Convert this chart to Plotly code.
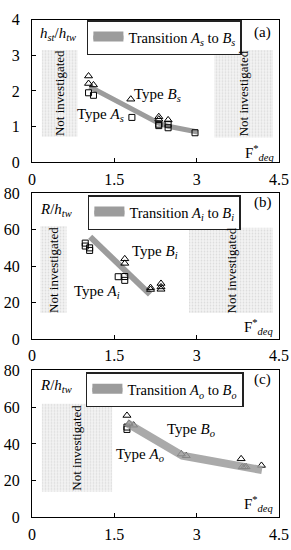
import plotly.graph_objects as go

# ---------------- data ----------------
# Panel (a)
a_tri_x = [1.03, 1.03, 1.12, 1.80, 2.31, 2.31, 2.48]
a_tri_y = [2.42, 2.21, 2.17, 1.77, 1.28, 1.21, 1.19]
a_sq_x = [1.03, 1.12, 1.82, 2.31, 2.31, 2.48, 2.48, 2.97]
a_sq_y = [1.95, 1.88, 1.26, 1.07, 1.03, 1.07, 0.97, 0.83]
a_tr_x = [1.05, 2.31, 2.48, 3.02]
a_tr_y = [2.12, 1.10, 1.01, 0.85]

# Panel (b)
b_tri_x = [1.69, 1.69, 2.16, 2.16, 2.35, 2.35, 2.35]
b_tri_y = [44.0, 41.5, 28.2, 27.2, 30.5, 28.6, 27.3]
b_sq_x = [0.97, 0.97, 1.05, 1.05, 1.57, 1.69, 1.69]
b_sq_y = [52.6, 51.0, 50.0, 48.6, 34.2, 34.3, 32.2]
b_tr_x = [1.06, 2.15]
b_tr_y = [56.0, 24.5]

# Panel (c)
c_tri_x = [1.73, 1.77, 1.85, 2.72, 2.81, 3.81, 3.83, 3.87, 3.90, 4.18]
c_tri_y = [55.5, 51.1, 50.2, 34.5, 33.6, 31.9, 27.5, 27.5, 27.5, 28.3]
c_sq_x = [1.73, 1.73]
c_sq_y = [49.2, 47.9]
c_tr_x = [1.72, 2.74, 4.19]
c_tr_y = [51.5, 33.6, 25.8]

# "Not investigated" regions [x0, x1, y0, y1]
a_regions = [[0.18, 0.83, 0.72, 3.15], [3.32, 4.39, 0.70, 3.15]]
b_regions = [[0.15, 0.63, 14.3, 62.0], [2.86, 4.39, 14.3, 61.0]]
c_regions = [[0.18, 1.46, 14.0, 61.9]]

x_ticks = [0, 1.5, 3, 4.5]
x_ticklabels = ["0", "1.5", "3", "4.5"]
a_yticks = [0, 1, 2, 3, 4]
bc_yticks = [0, 20, 40, 60, 80]

FONT = "Liberation Serif, Times New Roman, DejaVu Serif, serif"
fig = go.Figure()

panels = [
    dict(xa="x", ya="y", leg="legend", tri=(a_tri_x, a_tri_y), sq=(a_sq_x, a_sq_y),
         tr=(a_tr_x, a_tr_y), regions=a_regions, lw=5, over=False,
         name="Transition <i>A<sub>s</sub></i> to <i>B<sub>s</sub></i>"),
    dict(xa="x2", ya="y2", leg="legend2", tri=(b_tri_x, b_tri_y), sq=(b_sq_x, b_sq_y),
         tr=(b_tr_x, b_tr_y), regions=b_regions, lw=6, over=False,
         name="Transition <i>A<sub>i</sub></i> to <i>B<sub>i</sub></i>"),
    dict(xa="x3", ya="y3", leg="legend3", tri=(c_tri_x, c_tri_y), sq=(c_sq_x, c_sq_y),
         tr=(c_tr_x, c_tr_y), regions=c_regions, lw=8, over=True,
         name="Transition <i>A<sub>o</sub></i> to <i>B<sub>o</sub></i>"),
]

GRAY = "#9c9c9c"

for p in panels:
    for (x0, x1, y0, y1) in p["regions"]:
        fig.add_trace(go.Scatter(
            x=[x0, x1, x1, x0, x0], y=[y0, y0, y1, y1, y0], mode="lines",
            line=dict(width=0), fill="toself", fillcolor="#efefef",
            fillpattern=dict(shape=".", fgcolor="#c4c4c4", bgcolor="#f4f4f4",
                             size=3, solidity=0.3),
            xaxis=p["xa"], yaxis=p["ya"], showlegend=False, hoverinfo="skip"))

    # legend-only swatch (filled rectangle look)
    fig.add_trace(go.Scatter(
        x=[None], y=[None], mode="lines", fill="toself", fillcolor=GRAY,
        line=dict(color=GRAY, width=8), name=p["name"], legend=p["leg"],
        showlegend=True, xaxis=p["xa"], yaxis=p["ya"], hoverinfo="skip"))

    line_trace = go.Scatter(
        x=p["tr"][0], y=p["tr"][1], mode="lines",
        line=dict(color=GRAY, width=p["lw"]),
        opacity=0.85 if p["over"] else 1.0,
        showlegend=False, xaxis=p["xa"], yaxis=p["ya"])
    marker_traces = [
        go.Scatter(x=p["tri"][0], y=p["tri"][1], mode="markers",
                   marker=dict(symbol="triangle-up-open", size=7, color="black",
                               line=dict(width=1)),
                   xaxis=p["xa"], yaxis=p["ya"], showlegend=False),
        go.Scatter(x=p["sq"][0], y=p["sq"][1], mode="markers",
                   marker=dict(symbol="square-open", size=6, color="black",
                               line=dict(width=1)),
                   xaxis=p["xa"], yaxis=p["ya"], showlegend=False),
    ]
    if p["over"]:
        for t in marker_traces:
            fig.add_trace(t)
        fig.add_trace(line_trace)
    else:
        fig.add_trace(line_trace)
        for t in marker_traces:
            fig.add_trace(t)

H = 550.0
def ydom(top_px, bot_px):
    return [1 - bot_px / H, 1 - top_px / H]

axis_common = dict(
    showgrid=False, zeroline=False, showline=True, linecolor="black", linewidth=1,
    mirror=True, ticks="inside", ticklen=4, tickcolor="black",
    tickfont=dict(family=FONT, size=16, color="black"),
)

fig.update_layout(
    width=291, height=550,
    margin=dict(l=32, r=11.5, t=0, b=0),
    paper_bgcolor="white", plot_bgcolor="white",
    font=dict(family=FONT, color="black"),
    xaxis=dict(domain=[0, 1], range=[0, 4.5], tickvals=x_ticks, ticktext=x_ticklabels,
               anchor="y", ticklabelstandoff=2, ticklabeloverflow="allow", **axis_common),
    yaxis=dict(domain=ydom(12, 159.3), range=[0, 4], tickvals=a_yticks,
               anchor="x", ticklabelstandoff=8, **axis_common),
    xaxis2=dict(domain=[0, 1], range=[0, 4.5], tickvals=x_ticks, ticktext=x_ticklabels,
                anchor="y2", ticklabelstandoff=2, ticklabeloverflow="allow", **axis_common),
    yaxis2=dict(domain=ydom(191, 341.7), range=[0, 80], tickvals=bc_yticks,
                anchor="x2", ticklabelstandoff=8, **axis_common),
    xaxis3=dict(domain=[0, 1], range=[0, 4.5], tickvals=x_ticks, ticktext=x_ticklabels,
                anchor="y3", ticklabelstandoff=2, ticklabeloverflow="allow", **axis_common),
    yaxis3=dict(domain=ydom(374, 525.7), range=[0, 80], tickvals=bc_yticks,
                anchor="x3", ticklabelstandoff=8, **axis_common),
)

leg_common = dict(bgcolor="white", bordercolor="#222222", borderwidth=1.5,
                  font=dict(family=FONT, size=14.5, color="black"),
                  xanchor="left", yanchor="top", itemwidth=30,
                  tracegroupgap=0)
fig.update_layout(
    legend=dict(x=(87 - 32) / 247.5, y=1 - 12.5 / H, **leg_common),
    legend2=dict(x=(88 - 32) / 247.5, y=1 - 193 / H, **leg_common),
    legend3=dict(x=(86 - 32) / 247.5, y=1 - 376 / H, **leg_common),
)

ann = []
def add(text, x, y, xr, yr, size=15, xanchor="center", textangle=0):
    ann.append(dict(text=text, x=x, y=y, xref=xr, yref=yr, showarrow=False,
                    xanchor=xanchor, yanchor="middle", textangle=textangle,
                    font=dict(family=FONT, size=size, color="black")))

# panel a
add("(a)", 4.2, 3.65, "x", "y")
add("<i>h<sub>st</sub></i>/<i>h<sub>tw</sub></i>", 0.11, 3.6, "x", "y", xanchor="left")
add("F<sup>*</sup><sub><i>deq</i></sub>", 4.45, 0.25, "x", "y", xanchor="right")
add("Type <i>B<sub>s</sub></i>", 2.29, 1.88, "x", "y")
add("Type <i>A<sub>s</sub></i>", 1.24, 1.32, "x", "y")
for (x0, x1, y0, y1) in a_regions:
    add("Not investigated", (x0 + x1) / 2, (y0 + y1) / 2, "x", "y", size=13, textangle=-90)

# panel b
add("(b)", 4.2, 74.7, "x2", "y2")
add("<i>R</i>/<i>h<sub>tw</sub></i>", 0.11, 71, "x2", "y2", xanchor="left")
add("F<sup>*</sup><sub><i>deq</i></sub>", 4.42, 6.5, "x2", "y2", xanchor="right")
add("Type <i>B<sub>i</sub></i>", 2.24, 47.8, "x2", "y2")
add("Type <i>A<sub>i</sub></i>", 1.19, 25.7, "x2", "y2")
for (x0, x1, y0, y1) in b_regions:
    add("Not investigated", (x0 + x1) / 2, (y0 + y1) / 2, "x2", "y2", size=13, textangle=-90)

# panel c
add("(c)", 4.2, 74.9, "x3", "y3")
add("<i>R</i>/<i>h<sub>tw</sub></i>", 0.11, 71.3, "x3", "y3", xanchor="left")
add("F<sup>*</sup><sub><i>deq</i></sub>", 4.42, 7.2, "x3", "y3", xanchor="right")
add("Type <i>B<sub>o</sub></i>", 2.89, 47.6, "x3", "y3")
add("Type <i>A<sub>o</sub></i>", 1.97, 34.0, "x3", "y3")
for (x0, x1, y0, y1) in c_regions:
    add("Not investigated", (x0 + x1) / 2, (y0 + y1) / 2, "x3", "y3", size=13, textangle=-90)

fig.update_layout(annotations=ann)
fig.write_html("out.html",
               config={"displayModeBar": False},
               post_script="document.body.style.margin='0px';"
                           "document.body.style.overflow='hidden';")
